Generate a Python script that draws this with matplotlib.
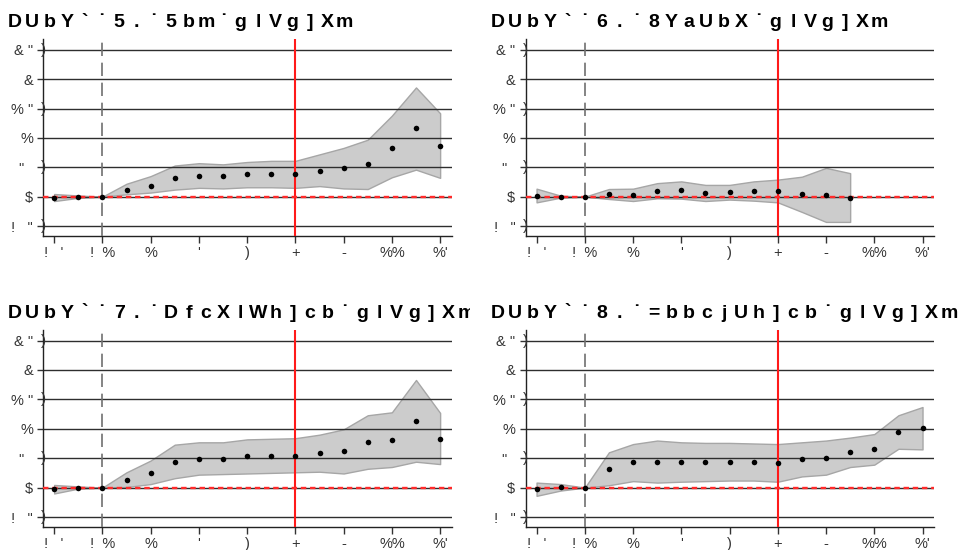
import matplotlib
matplotlib.use("Agg")
import matplotlib.pyplot as plt
import matplotlib.transforms as mtransforms

plt.rcParams['font.family'] = ['Liberation Sans', 'DejaVu Sans']

# event time relative to first subsidy year
event_time = list(range(-3, 14))

title_a = "DUbY`˙5.˙5bm˙glVg]Xm"
title_b = "DUbY`˙6.˙8YaUbX˙glVg]Xm"
title_c = "DUbY`˙7.˙DfcXlWh]cb˙glVg]Xm"
title_d = "DUbY`˙8.˙=bbcjUh]cb˙glVg]Xm"

coef_a = [-0.02, 0.0, 0.0, 0.12, 0.19, 0.32, 0.36, 0.35, 0.38, 0.39, 0.39, 0.44, 0.48, 0.56, 0.83, 1.17, 0.86]
upper_a = [0.045, 0.02, 0.0, 0.22, 0.35, 0.53, 0.57, 0.55, 0.59, 0.61, 0.61, 0.72, 0.83, 0.97, 1.38, 1.86, 1.42]
lower_a = [-0.075, -0.02, 0.0, 0.04, 0.07, 0.12, 0.15, 0.14, 0.16, 0.16, 0.15, 0.18, 0.14, 0.13, 0.33, 0.46, 0.32]

coef_b = [0.017, 0.0, 0.0, 0.05, 0.034, 0.097, 0.11, 0.07, 0.074, 0.09, 0.097, 0.04, 0.028, -0.023]
upper_b = [0.136, 0.017, 0.0, 0.13, 0.136, 0.23, 0.26, 0.2, 0.2, 0.26, 0.29, 0.34, 0.49, 0.40]
lower_b = [-0.097, -0.017, 0.0, -0.04, -0.074, -0.028, -0.034, -0.074, -0.05, -0.068, -0.097, -0.26, -0.43, -0.43]

coef_c = [-0.028, 0.0, 0.0, 0.13, 0.25, 0.43, 0.49, 0.49, 0.53, 0.545, 0.545, 0.585, 0.62, 0.78, 0.81, 1.13, 0.82]
upper_c = [0.045, 0.02, 0.0, 0.26, 0.46, 0.73, 0.77, 0.77, 0.82, 0.83, 0.84, 0.9, 0.99, 1.23, 1.28, 1.83, 1.27]
lower_c = [-0.1, -0.017, 0.0, 0.01, 0.06, 0.16, 0.22, 0.23, 0.24, 0.25, 0.26, 0.27, 0.24, 0.32, 0.35, 0.44, 0.40]

coef_d = [-0.028, 0.017, 0.0, 0.32, 0.43, 0.44, 0.44, 0.43, 0.44, 0.44, 0.42, 0.48, 0.51, 0.60, 0.65, 0.94, 1.01]
upper_d = [0.085, 0.06, 0.0, 0.6, 0.74, 0.8, 0.77, 0.76, 0.76, 0.75, 0.74, 0.77, 0.8, 0.85, 0.91, 1.23, 1.37]
lower_d = [-0.14, -0.05, 0.0, 0.04, 0.11, 0.085, 0.1, 0.11, 0.12, 0.12, 0.1, 0.19, 0.22, 0.35, 0.39, 0.66, 0.65]

xticks = list(range(-3, 14, 2))
xlabels = ["!   '", "!  %", "%", "'", ")", "+", "-", "%%", "%'"]
yticks = [-0.5, 0, 0.5, 1, 1.5, 2, 2.5]
ylabels = ['!   "', '$', '"  ', '%', '% "', '&', '& "']
half_ticks = [-0.5, 0.5, 1.5, 2.5]

W, H = 961, 550
fig = plt.figure(figsize=(W / 100, H / 100), dpi=100)

panels = [
    (title_a, coef_a, upper_a, lower_a, (43.3, 236, 39.3), (15, 22.7)),
    (title_b, coef_b, upper_b, lower_b, (525.7, 236, 39.3), (498, 22.7)),
    (title_c, coef_c, upper_c, lower_c, (43.3, 527, 330), (15, 313)),
    (title_d, coef_d, upper_d, lower_d, (525.7, 527, 330), (498, 313)),
]

for k, (title, coef, upper, lower, box, tpos) in enumerate(panels):
    left, bottom, top = box
    ax = fig.add_axes([left / W, 1 - bottom / H, 408.4 / W, (bottom - top) / H])
    t = event_time[:len(coef)]

    ax.fill_between(t, lower, upper, facecolor='#cccccc', edgecolor='#a6a6a6',
                    linewidth=1, zorder=1)
    for yv in yticks:
        ax.axhline(yv, color='#2e2e2e', linewidth=1, zorder=2)
    ax.axvline(-1, color='#707070', linewidth=1.2, linestyle=(0, (8, 4)), zorder=3)
    ax.axvline(7, color='#ff1a1a', linewidth=1.5, zorder=3)
    ax.axhline(0, color='#ff2a2a', linewidth=1.7, linestyle=(0, (2.3, 1.6)), zorder=3)
    ax.scatter(t, coef, s=16, color='black', linewidths=0, zorder=4)

    ax.set_xlim(-3.45, 13.48)
    ax.set_ylim(-0.67, 2.68)
    ax.set_xticks(xticks)
    ax.set_xticklabels(xlabels)
    ax.set_yticks(yticks)
    ax.set_yticklabels(ylabels)
    ax.tick_params(axis='both', labelsize=10.5, labelcolor='#333333', color='#333333', width=1)
    ax.tick_params(axis='y', length=4.5, pad=3)
    ax.tick_params(axis='x', length=5, pad=2)
    for s in ['top', 'right']:
        ax.spines[s].set_visible(False)
    for s in ['left', 'bottom']:
        ax.spines[s].set_color('#222222')
        ax.spines[s].set_linewidth(1)

    for yv in half_ticks:
        ax.text(0, yv, ')', transform=ax.get_yaxis_transform(), ha='center', va='center',
                fontsize=11, color='#333333', clip_on=False)

    # spaced heading, cut off at the panel edge on the left column
    clip = mtransforms.TransformedBbox(
        mtransforms.Bbox([[0, 0], [470 / W if k % 2 == 0 else 1, 1]]), fig.transFigure)
    x0, y0 = tpos
    for i, ch in enumerate(title):
        txt = fig.text((x0 + i * 17.35) / W, 1 - y0 / H, ch, ha='center', va='center',
                       fontsize=14, fontweight='bold', color='black')
        txt.set_clip_box(clip)
        txt.set_clip_on(True)

fig.savefig("out.png", dpi=100)
